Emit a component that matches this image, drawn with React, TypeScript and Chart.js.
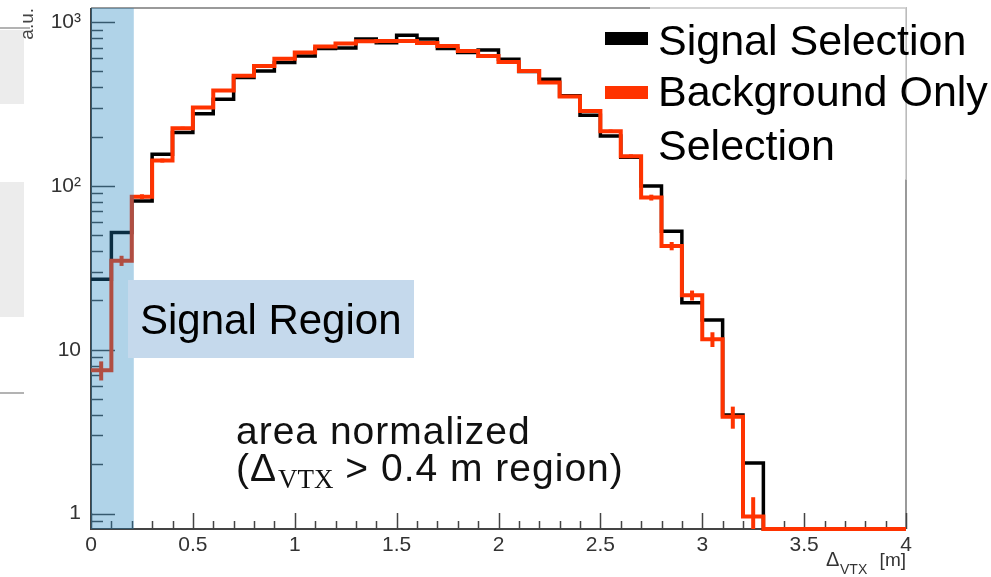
import React, { useEffect, useRef } from "react";
import { Chart, registerables } from "chart.js";

Chart.register(...registerables);

// ---- data ----
const BIN_LOW = [
  0.0, 0.1, 0.2, 0.3, 0.4, 0.5, 0.6, 0.7, 0.8, 0.9,
  1.0, 1.1, 1.2, 1.3, 1.4, 1.5, 1.6, 1.7, 1.8, 1.9,
  2.0, 2.1, 2.2, 2.3, 2.4, 2.5, 2.6, 2.7, 2.8, 2.9,
  3.0, 3.1, 3.2, 3.3, 3.4, 3.5, 3.6, 3.7, 3.8, 3.9,
];
const X_MAX = 4.0;

const SIGNAL = [
  27, 52, 81, 156, 212, 276, 338, 460, 504, 567,
  622, 690, 696, 788, 748, 832, 790, 690, 652, 676,
  593, 500, 448, 356, 270, 202, 150, 100, 53, 19.4,
  15.2, 4.0, 2.04, 0, 0, 0, 0, 0, 0, 0,
];

const BACKGROUND = [
  7.5, 35, 86, 143, 225, 301, 383, 470, 540, 598,
  652, 710, 740, 764, 768, 768, 745, 716, 667, 622,
  571, 504, 428, 352, 287, 216, 152, 85, 43, 21.5,
  11.6, 3.9, 0.96, 0, 0, 0, 0, 0, 0, 0,
];

const BACKGROUND_ERR = [
  1.0, 2.5, 3, 4, 5, 6, 7, 8, 8, 9,
  9, 10, 10, 10, 10, 10, 10, 10, 10, 9,
  9, 8, 8, 7, 6, 5, 4, 3.5, 2.5, 1.5,
  1.2, 0.6, 0.3, 0, 0, 0, 0, 0, 0, 0,
];

const Y_MIN = 0.806;
const Y_MAX = 1220;
const Y_TICK_LABELS = ["1", "10", "10\u00B2", "10\u00B3"];
const X_STEP = 0.5;
const SIGNAL_REGION_MAX = 0.21;

const LEGEND_LABELS = ["Signal Selection", "Background Only", "Selection"];

const RED = "#ff3300";
const BLACK = "#000000";
const SANS = '"Liberation Sans", Arial, Helvetica, sans-serif';
const SERIF = '"Liberation Serif", "Times New Roman", serif';

function toPoints(values: number[]) {
  const pts = BIN_LOW.map((x, i) => ({ x, y: Math.max(values[i], Y_MIN) }));
  pts.push({ x: X_MAX, y: Math.max(values[values.length - 1], Y_MIN) });
  return pts;
}

const decor = {
  id: "decor",
  beforeDatasetsDraw(chart: any) {
    const { ctx, chartArea: a, scales } = chart;
    const x = scales.x;
    const y = scales.y;
    ctx.save();
    // frame
    ctx.strokeStyle = "#7a7a7a";
    ctx.lineWidth = 1.5;
    ctx.beginPath();
    ctx.moveTo(a.left, a.top);
    ctx.lineTo(a.right, a.top);
    ctx.lineTo(a.right, a.bottom);
    ctx.stroke();
    ctx.strokeStyle = "#444";
    ctx.lineWidth = 2;
    ctx.beginPath();
    ctx.moveTo(a.left, a.top);
    ctx.lineTo(a.left, a.bottom);
    ctx.lineTo(a.right, a.bottom);
    ctx.stroke();

    // y ticks (log)
    ctx.lineWidth = 1.5;
    ctx.strokeStyle = "#444";
    ctx.beginPath();
    for (let p = -1; p <= 3; p++) {
      for (let m = 1; m <= 9; m++) {
        const v = m * Math.pow(10, p);
        if (v < Y_MIN || v > Y_MAX) continue;
        const py = Math.round(y.getPixelForValue(v)) + 0.5;
        const len = m === 1 ? 24 : 12;
        ctx.moveTo(a.left, py);
        ctx.lineTo(a.left + len, py);
      }
    }
    // x ticks
    for (let k = 0; k <= 40; k++) {
      const v = k / 10;
      const px = Math.round(x.getPixelForValue(v)) + 0.5;
      const len = k % 5 === 0 ? 16 : 8;
      ctx.moveTo(px, a.bottom);
      ctx.lineTo(px, a.bottom - len);
    }
    ctx.stroke();
    ctx.restore();
  },
  afterDatasetsDraw(chart: any) {
    const { ctx, chartArea: a, scales } = chart;
    const x = scales.x;
    const y = scales.y;
    ctx.save();
    // error bars for the background-only histogram
    ctx.strokeStyle = RED;
    ctx.lineWidth = 4;
    BIN_LOW.forEach((lo, i) => {
      const v = BACKGROUND[i];
      const e = BACKGROUND_ERR[i];
      if (!(v > 0) || !(e > 0)) return;
      const hi = i + 1 < BIN_LOW.length ? BIN_LOW[i + 1] : X_MAX;
      const cx = x.getPixelForValue((lo + hi) / 2);
      const y1 = y.getPixelForValue(Math.max(v - e, Y_MIN));
      const y2 = y.getPixelForValue(v + e);
      ctx.beginPath();
      ctx.moveTo(cx, y1);
      ctx.lineTo(cx, y2);
      ctx.stroke();
    });
    // signal region band
    const bx1 = x.getPixelForValue(0);
    const bx2 = x.getPixelForValue(SIGNAL_REGION_MAX);
    ctx.fillStyle = "rgba(30,130,190,0.35)";
    ctx.fillRect(bx1, a.top, bx2 - bx1, a.bottom - a.top);
    ctx.restore();
  },
  afterDraw(chart: any) {
    const { ctx, chartArea: a } = chart;
    ctx.save();

    // slide artifacts on the far left
    ctx.fillStyle = "#ececec";
    ctx.fillRect(0, 30, 24, 74);
    ctx.fillRect(0, 182, 24, 135);
    ctx.strokeStyle = "#9a9a9a";
    ctx.lineWidth = 1.5;
    ctx.beginPath();
    ctx.moveTo(0, 28);
    ctx.lineTo(30, 28);
    ctx.moveTo(0, 393);
    ctx.lineTo(24, 393);
    ctx.stroke();

    // legend box
    ctx.fillStyle = "#ffffff";
    ctx.fillRect(650, a.top - 1, a.right - 650, 180 - a.top);
    ctx.strokeStyle = "#c8c8c8";
    ctx.lineWidth = 1.5;
    ctx.beginPath();
    ctx.moveTo(650, a.top);
    ctx.lineTo(a.right, a.top);
    ctx.lineTo(a.right, 180);
    ctx.stroke();
    ctx.fillStyle = BLACK;
    ctx.fillRect(605, 32, 43, 13);
    ctx.fillStyle = RED;
    ctx.fillRect(605, 86, 43, 13);
    ctx.fillStyle = "#000";
    ctx.font = `43px ${SANS}`;
    ctx.textAlign = "left";
    ctx.textBaseline = "alphabetic";
    ctx.fillText(LEGEND_LABELS[0], 658, 55);
    ctx.fillText(LEGEND_LABELS[1], 658, 106);
    ctx.fillText(LEGEND_LABELS[2], 658, 160);

    // Signal Region label
    ctx.fillStyle = "#c5d9ec";
    ctx.fillRect(128, 280, 286, 78);
    ctx.fillStyle = "#000";
    ctx.font = `42px ${SANS}`;
    ctx.fillText("Signal Region", 140, 334);

    // area normalized text
    ctx.fillStyle = "#111";
    ctx.font = `39px ${SANS}`;
    (ctx as any).letterSpacing = "1px";
    ctx.fillText("area normalized", 236, 444);
    let cx = 236;
    ctx.fillText("(\u0394", cx, 481);
    cx += ctx.measureText("(\u0394").width + 1;
    (ctx as any).letterSpacing = "0px";
    ctx.font = `27px ${SERIF}`;
    ctx.fillText("VTX", cx, 488);
    cx += ctx.measureText("VTX").width;
    ctx.font = `39px ${SANS}`;
    (ctx as any).letterSpacing = "1px";
    ctx.fillText(" > 0.4 m region)", cx, 481);
    (ctx as any).letterSpacing = "0px";

    // a.u. label
    ctx.save();
    ctx.translate(33, 8);
    ctx.rotate(-Math.PI / 2);
    ctx.font = `19px ${SANS}`;
    ctx.fillStyle = "#444";
    ctx.textAlign = "right";
    ctx.textBaseline = "alphabetic";
    ctx.fillText("a.u.", 0, 0);
    ctx.restore();

    // x-axis title
    ctx.fillStyle = "#333";
    ctx.font = `20px ${SANS}`;
    ctx.textAlign = "left";
    ctx.fillText("\u0394", 826, 566);
    ctx.font = `14px ${SANS}`;
    ctx.fillText("VTX", 840, 574);
    ctx.font = `19px ${SANS}`;
    ctx.textAlign = "right";
    ctx.fillText("[m]", 906, 566);

    ctx.restore();
  },
};

export default function App() {
  const ref = useRef<HTMLCanvasElement>(null);
  useEffect(() => {
    const canvas = ref.current;
    if (!canvas) return;
    const chart = new Chart(canvas, {
      type: "line",
      data: {
        datasets: [
          {
            label: "Signal Selection",
            data: toPoints(SIGNAL),
            borderColor: BLACK,
            borderWidth: 3.5,
            stepped: "before",
            pointRadius: 0,
            fill: false,
            order: 1,
            clip: 8,
            borderJoinStyle: "miter",
          } as any,
          {
            label: "Background Only Selection",
            data: toPoints(BACKGROUND),
            borderColor: RED,
            borderWidth: 4,
            stepped: "before",
            pointRadius: 0,
            fill: false,
            order: 0,
            clip: 8,
            borderJoinStyle: "miter",
          } as any,
        ],
      },
      options: {
        animation: false,
        responsive: false,
        devicePixelRatio: 1,
        layout: { padding: { top: 8, right: 85, left: 0, bottom: 0 } },
        plugins: { legend: { display: false }, tooltip: { enabled: false } },
        scales: {
          x: {
            type: "linear",
            min: 0,
            max: X_MAX,
            grid: { display: false, drawTicks: false },
            border: { display: false },
            ticks: {
              stepSize: X_STEP,
              autoSkip: false,
              maxRotation: 0,
              padding: 4,
              color: "#333",
              font: { family: SANS, size: 21 },
              callback: (value: any) => String(Number(value)),
            },
            afterFit: (s: any) => {
              s.height = 48;
              s.paddingLeft = 0;
              s.paddingRight = 0;
            },
          },
          y: {
            type: "logarithmic",
            min: Y_MIN,
            max: Y_MAX,
            grid: { display: false, drawTicks: false },
            border: { display: false },
            ticks: {
              autoSkip: false,
              padding: 10,
              color: "#333",
              font: { family: SANS, size: 21 },
              callback: (value: any) => {
                const v = Number(value);
                const l = Math.log10(v);
                const r = Math.round(l);
                if (Math.abs(l - r) < 1e-6 && r >= 0 && r < Y_TICK_LABELS.length) {
                  return Y_TICK_LABELS[r];
                }
                return "";
              },
            },
            afterFit: (s: any) => {
              s.width = 91;
              s.paddingTop = 0;
              s.paddingBottom = 0;
            },
          },
        },
      } as any,
      plugins: [decor],
    });
    return () => chart.destroy();
  }, []);

  return (
    <div
      style={{
        position: "absolute",
        left: 0,
        top: 0,
        width: 991,
        height: 577,
        background: "#fff",
        overflow: "hidden",
      }}
    >
      <canvas ref={ref} width={991} height={577} style={{ width: 991, height: 577, display: "block" }} />
    </div>
  );
}
